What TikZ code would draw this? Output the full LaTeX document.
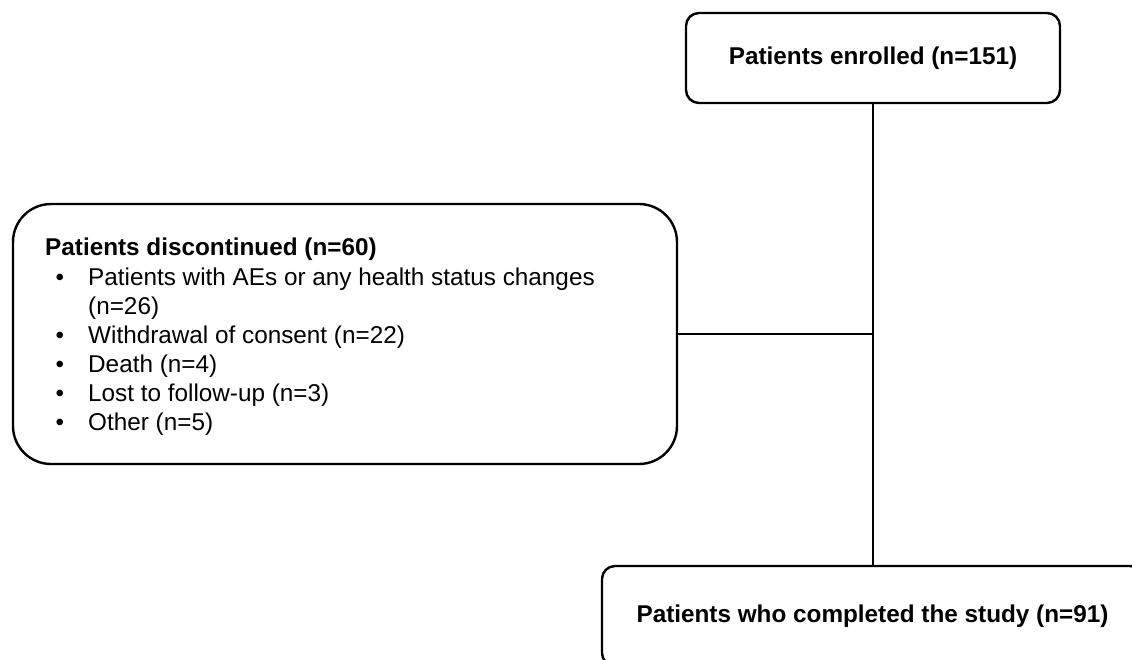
\documentclass[tikz,border=0pt]{standalone}
\usepackage{fontspec}
\setmainfont{Liberation Sans}
\begin{document}
\begin{tikzpicture}[x=1pt,y=-1pt,
  box/.style={draw=black,line width=2.4pt,inner sep=0pt},
  conn/.style={draw=black,line width=2.4pt},
  txt/.style={inner sep=0pt,anchor=base west,font=\fontsize{24.3}{29}\selectfont},
  bold/.style={txt,font=\fontsize{24.3}{29}\selectfont\bfseries},
  bul/.style={inner sep=0pt,anchor=base,font=\fontsize{24.3}{29}\selectfont}]
\useasboundingbox (0,0) rectangle (1132,659);
\clip (0,0) rectangle (1132,659);
% boxes
\node[box,rounded corners=13pt,minimum width=374pt,minimum height=90pt,
  font=\fontsize{24.3}{29}\selectfont\bfseries] (enr) at (873,58) {Patients enrolled (n=151)};
\node[box,rounded corners=38pt,minimum width=664pt,minimum height=260pt] (disc) at (345,334) {};
\node[box,rounded corners=13pt,minimum width=541pt,minimum height=100pt,
  font=\fontsize{24.3}{29}\selectfont\bfseries] (comp) at (872.5,616) {Patients who completed the study (n=91)};
% discontinued text
\node[bold] (dt) at (45,255) {Patients discontinued (n=60)};
\node[bul] (b1) at (60,285) {•};
\node[txt] (l1) at (88,285) {Patients with AEs or any health status changes};
\node[txt] (l1b) at (88,314) {(n=26)};
\node[bul] (b2) at (60,343) {•};
\node[txt] (l2) at (88,343) {Withdrawal of consent (n=22)};
\node[bul] (b3) at (60,372) {•};
\node[txt] (l3) at (88,372) {Death (n=4)};
\node[bul] (b4) at (60,401) {•};
\node[txt] (l4) at (88,401) {Lost to follow-up (n=3)};
\node[bul] (b5) at (60,430) {•};
\node[txt] (l5) at (88,430) {Other (n=5)};
% connectors
\draw[conn] (enr.south) -- (enr.south |- comp.north);
\draw[conn] (disc.east) -- (enr.south |- disc.east);
\end{tikzpicture}
\end{document}
